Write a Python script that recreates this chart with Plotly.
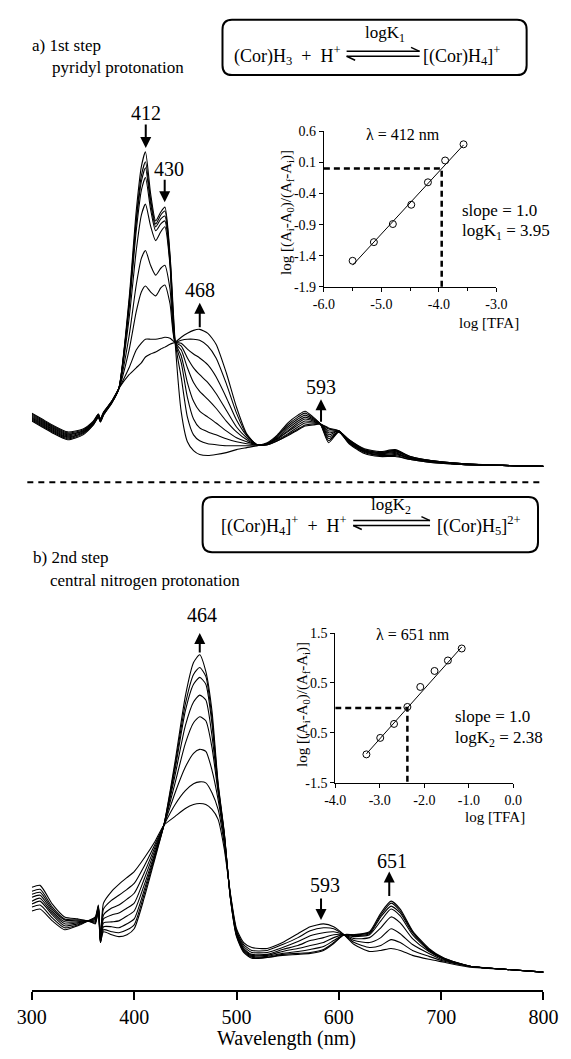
import plotly.graph_objects as go

# ---------------- data (relative absorbance, mAU) ----------------
top_wl = [300, 310, 320, 335, 350, 360, 365, 367, 370, 378, 385, 395, 402, 407, 411, 416, 421, 426, 430, 435,
          440, 446, 452, 458, 464, 472, 480, 490, 500, 510, 520, 530, 540, 550, 560, 567, 575, 582, 590, 600,
          610, 625, 640, 655, 670, 690, 720, 760, 800]
top_c1 = [46, 40, 34, 27, 32, 42, 50, 45, 52, 64, 79, 170, 259, 304, 319, 277, 249, 258, 263, 215,
          126, 55, 25, 16, 12, 11, 12, 14, 17, 19, 21, 24, 32, 44, 52, 56, 50, 43, 24, 35,
          23, 13, 10, 10, 7, 4, 2, 1, 0]
top_c2 = [47, 41, 35, 28, 33, 42, 50, 45, 52, 64, 79, 166, 251, 295, 309, 271, 246, 255, 259, 212,
          126, 90, 50, 32, 26, 23, 22, 21, 21, 21, 21, 23, 31, 42, 50, 54, 49, 43, 26, 35,
          24, 14, 11, 11, 7, 4, 2, 1, 0]
top_c3 = [48, 42, 36, 29, 34, 43, 51, 46, 53, 65, 79, 164, 247, 289, 303, 267, 243, 251, 254, 209,
          126, 105, 70, 48, 39, 35, 32, 28, 25, 23, 22, 23, 30, 40, 48, 52, 48, 43, 28, 35,
          24, 15, 11, 12, 8, 5, 2, 1, 0]
top_c4 = [49, 43, 37, 30, 34, 43, 51, 46, 53, 65, 79, 160, 239, 280, 293, 261, 239, 246, 249, 206,
          126, 112, 85, 66, 56, 50, 44, 36, 29, 25, 22, 23, 29, 38, 46, 50, 47, 43, 30, 35,
          25, 15, 12, 13, 8, 5, 2, 1, 0]
top_c5 = [50, 44, 38, 31, 35, 44, 51, 46, 53, 65, 79, 150, 219, 255, 266, 244, 229, 238, 243, 204,
          126, 118, 100, 85, 76, 68, 59, 46, 35, 27, 22, 23, 28, 36, 44, 48, 46, 43, 32, 36,
          25, 16, 13, 14, 8, 5, 2, 1, 0]
top_c6 = [51, 45, 39, 32, 36, 44, 52, 47, 54, 65, 79, 132, 184, 211, 219, 204, 194, 201, 204, 180,
          126, 122, 110, 100, 93, 85, 74, 57, 40, 29, 22, 23, 28, 35, 42, 46, 45, 43, 34, 36,
          26, 16, 13, 15, 9, 5, 3, 1, 0]
top_c7 = [52, 46, 40, 33, 36, 45, 52, 47, 54, 66, 79, 118, 157, 177, 183, 177, 173, 181, 184, 165,
          126, 125, 119, 114, 110, 103, 91, 70, 47, 31, 22, 22, 27, 33, 40, 44, 44, 43, 36, 36,
          26, 17, 14, 16, 9, 6, 3, 1, 0]
top_c8 = [53, 47, 41, 34, 37, 45, 53, 48, 55, 66, 79, 100, 118, 125, 129, 129, 129, 130, 131, 130,
          126, 128, 129, 129, 128, 122, 110, 84, 54, 32, 22, 22, 26, 32, 38, 42, 43, 43, 38, 36,
          27, 17, 14, 16, 10, 6, 3, 1, 0]
top_c9 = [54, 48, 42, 35, 38, 46, 53, 48, 55, 66, 79, 93, 100, 105, 111, 114, 116, 119, 121, 124,
          126, 131, 135, 138, 139, 135, 124, 95, 60, 33, 22, 22, 26, 31, 37, 41, 42, 43, 39, 36,
          27, 18, 15, 17, 10, 6, 3, 1, 0]

bot_wl = [300, 308, 320, 332, 345, 355, 362, 365, 367, 370, 378, 385, 393, 400, 410, 420, 429, 440, 450, 458,
          464, 470, 476, 482, 488, 494, 500, 507, 515, 530, 545, 560, 572, 585, 595, 605, 615, 630, 641, 651,
          660, 672, 688, 703, 728, 760, 800]
bot_c1 = [62, 64, 52, 43, 47, 52, 56, 68, 34, 70, 82, 89, 96, 102, 116, 132, 149, 158, 166, 170,
          171, 170, 165, 155, 125, 80, 44, 30, 25, 24, 30, 39, 46, 49, 46, 38, 28, 21, 22, 24,
          22, 17, 13, 10, 5, 3, 0]
bot_c2 = [66, 68, 55, 45, 48, 52, 55, 67, 33, 64, 73, 78, 84, 90, 108, 129, 149, 170, 184, 191,
          193, 192, 182, 165, 130, 79, 42, 28, 22, 22, 28, 35, 42, 45, 44, 38, 30, 25, 27, 33,
          30, 22, 16, 11, 6, 3, 0]
bot_c3 = [69, 72, 58, 47, 49, 52, 54, 66, 32, 58, 65, 68, 74, 80, 101, 126, 149, 182, 208, 222,
          226, 224, 205, 175, 134, 78, 41, 26, 20, 20, 25, 31, 37, 40, 41, 38, 32, 30, 35, 44,
          39, 28, 19, 12, 6, 3, 0]
bot_c4 = [72, 75, 60, 49, 50, 52, 53, 66, 32, 54, 58, 60, 65, 70, 95, 123, 149, 192, 232, 253,
          259, 255, 228, 182, 137, 77, 40, 24, 18, 18, 23, 27, 32, 35, 38, 38, 34, 35, 45, 56,
          50, 34, 21, 13, 6, 3, 0]
bot_c5 = [76, 78, 62, 51, 51, 52, 52, 65, 31, 50, 51, 52, 57, 62, 89, 120, 149, 200, 250, 274,
          281, 276, 240, 186, 139, 76, 39, 23, 17, 17, 21, 24, 27, 30, 35, 38, 36, 38, 52, 64,
          57, 38, 22, 13, 6, 3, 0]
bot_c6 = [79, 81, 64, 53, 52, 52, 51, 65, 31, 46, 46, 45, 49, 54, 84, 118, 149, 206, 265, 292,
          299, 292, 252, 188, 140, 76, 38, 22, 16, 16, 19, 21, 23, 26, 32, 38, 37, 39, 56, 67,
          60, 40, 23, 13, 6, 3, 0]
bot_c7 = [82, 84, 66, 54, 53, 52, 50, 64, 30, 43, 41, 40, 43, 48, 80, 116, 149, 210, 272, 302,
          309, 300, 258, 190, 141, 75, 37, 21, 15, 15, 18, 19, 20, 23, 30, 38, 38, 40, 58, 70,
          62, 41, 23, 14, 6, 3, 0]
bot_c8 = [86, 88, 69, 56, 54, 52, 49, 64, 30, 41, 38, 36, 38, 44, 76, 114, 149, 214, 280, 314,
          322, 305, 265, 192, 142, 75, 36, 20, 14, 15, 17, 18, 19, 22, 29, 38, 38, 41, 60, 72,
          64, 42, 24, 14, 6, 3, 0]

# Hill-type plots (insets)
ins_a_logtfa = [-5.50, -5.13, -4.80, -4.48, -4.19, -3.89, -3.57]
ins_a_logratio = [-1.48, -1.18, -0.89, -0.58, -0.22, 0.13, 0.39]
ins_b_logtfa = [-3.30, -2.99, -2.68, -2.38, -2.09, -1.77, -1.47, -1.16]
ins_b_logratio = [-0.93, -0.60, -0.32, 0.02, 0.42, 0.74, 0.95, 1.19]
slope_1, logK1 = 1.0, 3.95
slope_2, logK2 = 1.0, 2.38

wl_ticks = [300, 400, 500, 600, 700, 800]
ins_a_xticks = [-6.0, -5.0, -4.0, -3.0]
ins_a_yticks = [-1.9, -1.4, -0.9, -0.4, 0.1, 0.6]
ins_b_xticks = [-4.0, -3.0, -2.0, -1.0, 0.0]
ins_b_yticks = [-1.5, -0.5, 0.5, 1.5]

# ---------------- figure ----------------
W, H = 571, 1059
FONT = "Liberation Serif"


def PX(x):
    return x / W


def PY(y):
    return 1 - y / H


fig = go.Figure()
line_style = dict(color="black", width=1.1, shape="spline", smoothing=0.6)
for c in [top_c1, top_c2, top_c3, top_c4, top_c5, top_c6, top_c7, top_c8, top_c9]:
    fig.add_trace(go.Scatter(x=top_wl, y=c, mode="lines", line=line_style,
                             xaxis="x", yaxis="y", showlegend=False, hoverinfo="skip"))
for c in [bot_c1, bot_c2, bot_c3, bot_c4, bot_c5, bot_c6, bot_c7, bot_c8]:
    fig.add_trace(go.Scatter(x=bot_wl, y=c, mode="lines", line=line_style,
                             xaxis="x2", yaxis="y2", showlegend=False, hoverinfo="skip"))


def add_inset(xs, ys, slope, logk, xa, ya, xmin, ymin):
    fx = [min(xs), max(xs)]
    fig.add_trace(go.Scatter(x=fx, y=[slope * v + logk for v in fx], mode="lines",
                             line=dict(color="black", width=1), xaxis=xa, yaxis=ya,
                             showlegend=False, hoverinfo="skip"))
    fig.add_trace(go.Scatter(x=xs, y=ys, mode="markers",
                             marker=dict(symbol="circle-open", size=7, color="black",
                                         line=dict(width=1, color="black")),
                             xaxis=xa, yaxis=ya, showlegend=False, hoverinfo="skip"))
    xk = -logk / slope
    fig.add_trace(go.Scatter(x=[xmin, xk, xk], y=[0, 0, ymin], mode="lines",
                             line=dict(color="black", width=2.5, dash="6px,4px"),
                             xaxis=xa, yaxis=ya, showlegend=False, hoverinfo="skip"))


add_inset(ins_a_logtfa, ins_a_logratio, slope_1, logK1, "x3", "y3", ins_a_xticks[0], ins_a_yticks[0])
add_inset(ins_b_logtfa, ins_b_logratio, slope_2, logK2, "x4", "y4", ins_b_xticks[0], ins_b_yticks[0])

xdom = [17.8 / W, 557.8 / W]
inset_axis = dict(showline=True, linecolor="black", linewidth=1, ticks="outside", ticklen=4,
                  tickcolor="black", showgrid=False, zeroline=False, mirror=False,
                  tickfont=dict(family=FONT, size=14, color="black"))

fig.update_layout(
    width=W, height=H, margin=dict(l=0, r=0, t=0, b=0),
    paper_bgcolor="white", plot_bgcolor="rgba(0,0,0,0)",
    font=dict(family=FONT, size=16, color="black"),
    xaxis=dict(domain=xdom, range=[300, 800], visible=False, anchor="y"),
    yaxis=dict(domain=[PY(470), PY(90)], range=[-4, 376], visible=False, anchor="x"),
    xaxis2=dict(domain=xdom, range=[300, 800], anchor="y2", showline=True, linecolor="black",
                linewidth=1.5, ticks="outside", ticklen=8, tickwidth=1.5, tickcolor="black",
                tickvals=wl_ticks, ticktext=[str(v) for v in wl_ticks], showgrid=False, zeroline=False,
                tickfont=dict(family=FONT, size=20, color="black")),
    yaxis2=dict(domain=[PY(997), PY(600)], range=[-18, 379], visible=False, anchor="x2"),
    xaxis3=dict(domain=[PX(326), PX(508)], range=[-6, -3], anchor="y3",
                tickvals=ins_a_xticks, ticktext=["%.1f" % v for v in ins_a_xticks],
                minor=dict(tickvals=[-5.5, -4.5, -3.5], ticks="outside", ticklen=3, tickcolor="black"),
                **inset_axis),
    yaxis3=dict(domain=[PY(284), PY(126)], range=[-1.9, 0.6], anchor="x3",
                tickvals=ins_a_yticks, ticktext=["%.1f" % v for v in ins_a_yticks], **inset_axis),
    xaxis4=dict(domain=[PX(338), PX(526)], range=[-4, 0], anchor="y4",
                tickvals=ins_b_xticks, ticktext=["%.1f" % v for v in ins_b_xticks], **inset_axis),
    yaxis4=dict(domain=[PY(787), PY(635)], range=[-1.5, 1.5], anchor="x4",
                tickvals=ins_b_yticks, ticktext=["%.1f" % v for v in ins_b_yticks], **inset_axis),
)

ann = []


def text(x, y, s, size=17, xanchor="center", angle=0):
    ann.append(dict(x=PX(x), y=PY(y), xref="paper", yref="paper", text=s, showarrow=False,
                    xanchor=xanchor, yanchor="middle", textangle=angle,
                    font=dict(family=FONT, size=size, color="black")))


def arrow(x, y_tip, y_tail):
    ann.append(dict(x=PX(x), y=PY(y_tip), xref="paper", yref="paper", text="", showarrow=True,
                    ax=0, ay=y_tail - y_tip, arrowhead=2, arrowsize=1.1, arrowwidth=2,
                    arrowcolor="black", standoff=0, startstandoff=0))


# panel a header
text(16, 39, "a) 1st step", 17, "left")
text(37, 61, "pyridyl protonation", 17, "left")
text(346, 49, "(Cor)H<sub>3</sub>  +  H<sup>+</sup>", 18, "right")
text(390, 27, "logK<sub>1</sub>", 17)
text(429, 49, "[(Cor)H<sub>4</sub>]<sup>+</sup>", 18, "left")

# panel a peak labels
text(138, 108, "412", 20); arrow(138, 143, 118)
text(163, 164, "430", 20); arrow(158, 198, 174)
text(195, 287, "468", 20); arrow(195, 300, 326)
text(323, 385, "593", 20); arrow(323, 398, 422)

# inset a texts
text(410, 129, "λ = 412 nm", 16)
text(470, 206, "slope = 1.0", 17, "left")
text(470, 228, "logK<sub>1</sub> = 3.95", 17, "left")
text(500, 321, "log [TFA]", 15)
text(287, 208, "log [(A<sub>i</sub>-A<sub>0</sub>)/(A<sub>f</sub>-A<sub>i</sub>)]", 15, angle=-90)

# panel b header
text(352, 526, "[(Cor)H<sub>4</sub>]<sup>+</sup>  +  H<sup>+</sup>", 18, "right")
text(397, 506, "logK<sub>2</sub>", 17)
text(443, 526, "[(Cor)H<sub>5</sub>]<sup>2+</sup>", 18, "left")
text(17, 558, "b) 2nd step", 17, "left")
text(35, 582, "central nitrogen protonation", 17, "left")

# panel b peak labels
text(197, 617, "464", 20); arrow(195, 635, 656)
text(327, 891, "593", 20); arrow(323, 926, 903)
text(398, 866, "651", 20); arrow(395, 877, 903)

# inset b texts
text(420, 637, "λ = 651 nm", 16)
text(462, 720, "slope = 1.0", 17, "left")
text(462, 743, "logK<sub>2</sub> = 2.38", 17, "left")
text(507, 822, "log [TFA]", 15)
text(304, 708, "log [(A<sub>i</sub>-A<sub>0</sub>)/(A<sub>f</sub>-A<sub>i</sub>)]", 15, angle=-90)

text(287, 1046, "Wavelength (nm)", 20)

fig.update_layout(annotations=ann)

# shapes
shapes = []


def rrect(x0, y0, x1, y1, r):
    f = lambda x, y: f"{PX(x):.5f},{PY(y):.5f}"
    p = (f"M {f(x0 + r, y0)} L {f(x1 - r, y0)} Q {f(x1, y0)} {f(x1, y0 + r)} "
         f"L {f(x1, y1 - r)} Q {f(x1, y1)} {f(x1 - r, y1)} L {f(x0 + r, y1)} "
         f"Q {f(x0, y1)} {f(x0, y1 - r)} L {f(x0, y0 + r)} Q {f(x0, y0)} {f(x0 + r, y0)} Z")
    shapes.append(dict(type="path", path=p, xref="paper", yref="paper",
                       line=dict(color="black", width=2)))


def seg(x0, y0, x1, y1, w=1.5, dash="solid"):
    shapes.append(dict(type="line", x0=PX(x0), y0=PY(y0), x1=PX(x1), y1=PY(y1),
                       xref="paper", yref="paper", line=dict(color="black", width=w, dash=dash)))


def harpoons(xa, xb, yu):
    seg(xa, yu, xb, yu)
    seg(xb - 9, yu - 4, xb, yu)
    seg(xa, yu + 5, xb, yu + 5)
    seg(xa, yu + 5, xa + 9, yu + 9)


rrect(219, 13, 540, 69, 10)
harpoons(350, 427, 45)
seg(13, 482, 558, 482, 2, "6px,5px")
rrect(198, 497, 552, 553, 10)
harpoons(357, 438, 521)

fig.update_layout(shapes=shapes)
fig.write_html("out.html")
